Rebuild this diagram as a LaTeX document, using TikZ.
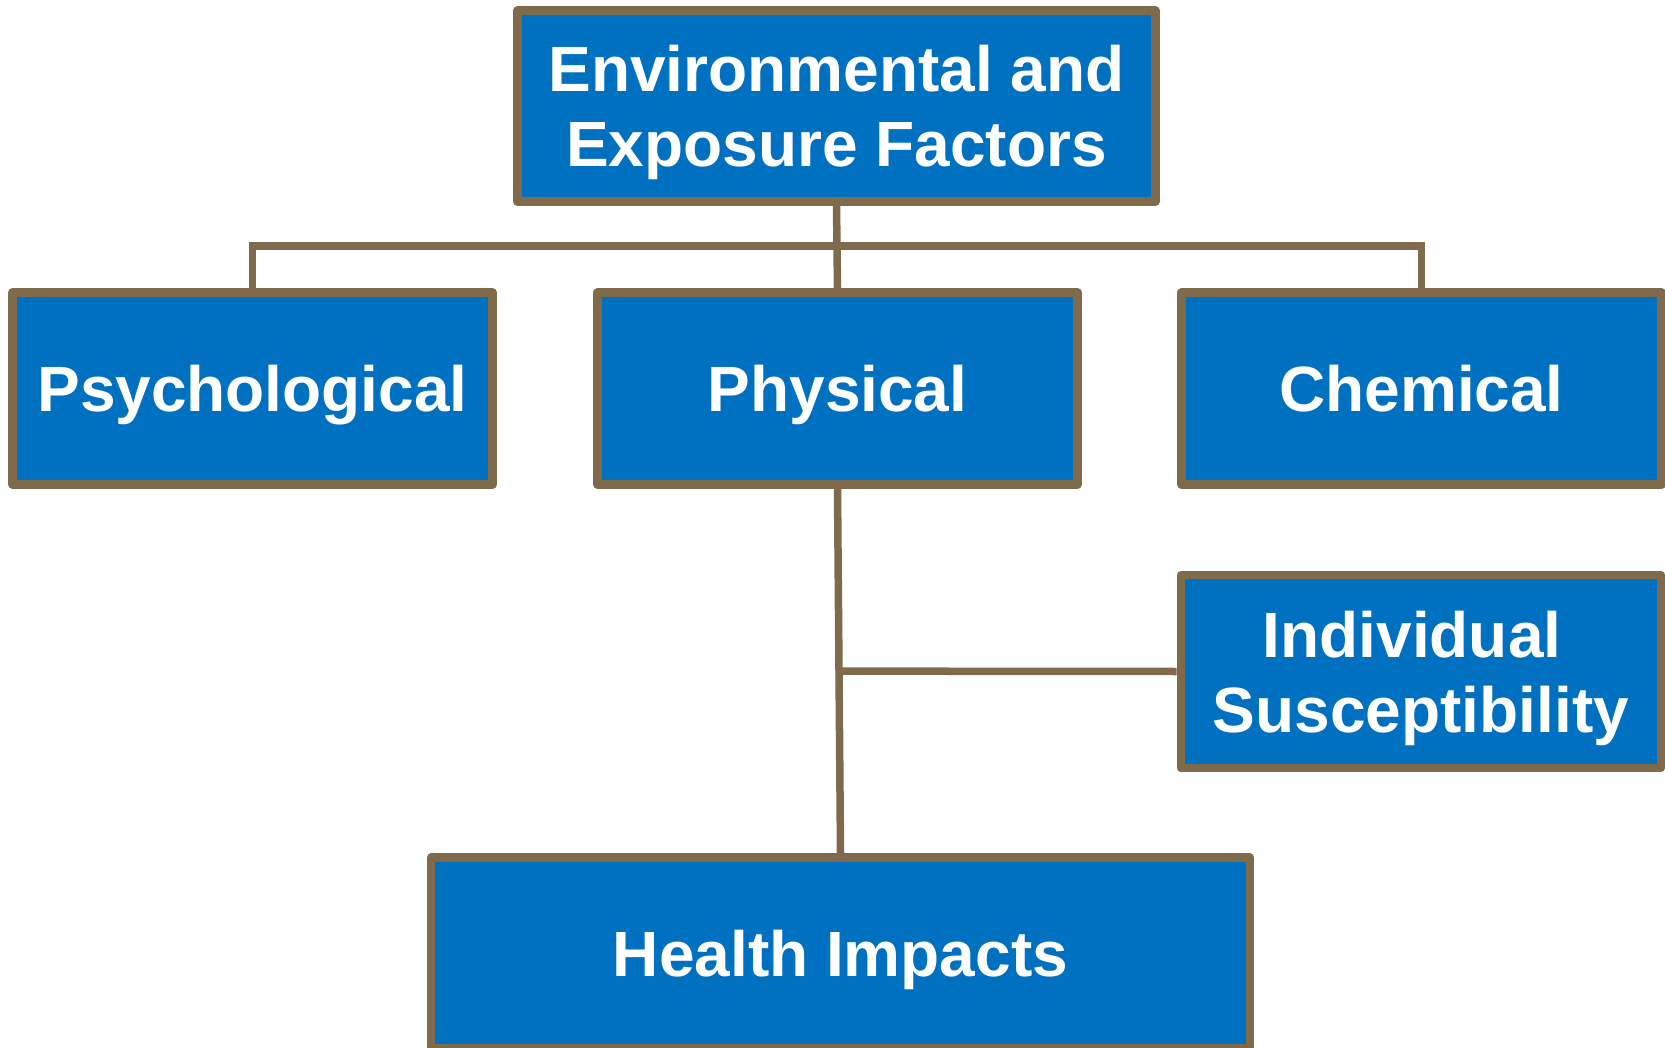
\documentclass[tikz,border=0pt]{standalone}
\usepackage{fontspec}
\setmainfont{Liberation Sans}
\usetikzlibrary{positioning,calc}

\definecolor{boxblue}{RGB}{0,112,192}
\definecolor{linebrown}{RGB}{128,106,76}

\begin{document}
\begin{tikzpicture}[x=1pt,y=-1pt,
  factor/.style={draw=linebrown,fill=boxblue,line width=8.6pt,line join=round,
    text=white,font=\fontsize{64}{75}\selectfont\bfseries,align=center,
    inner sep=0pt,minimum width=480pt,minimum height=192pt},
  oneline/.style={text height=46pt,text depth=0pt},
  twoline/.style={text height=121pt,text depth=0pt},
  link/.style={draw=linebrown,line width=7.5pt}]
\useasboundingbox (0,0) rectangle (1665,1048);
\node[factor,twoline,minimum width=638pt,minimum height=191pt] (env) at (836.5,106) {Environmental and\\Exposure Factors};
\node[factor,oneline] (psych) at (252.5,388.5) {Psychological};
\node[factor,oneline] (phys) at (837.5,388.5) {Physical};
\node[factor,oneline] (chem) at (1421.5,388.5) {Chemical};
\node[factor,twoline,minimum height=193pt] (indiv) at (1421,671.5) {Individual\rule{18pt}{0pt}\\Susceptibility};
\node[factor,oneline,minimum width=819pt,minimum height=190.5pt] (health) at (840.5,953) {Health Impacts};
\coordinate (bus) at (837,246);
\coordinate (join) at ($(phys.south)!.5!(health.north)$);
\draw[link] (env.south) -- (phys.north);
\draw[link] (psych.north) |- (bus) -| (chem.north);
\draw[link] (phys.south) -- (health.north);
\draw[link] (indiv.west) -- (join);
\end{tikzpicture}
\end{document}
